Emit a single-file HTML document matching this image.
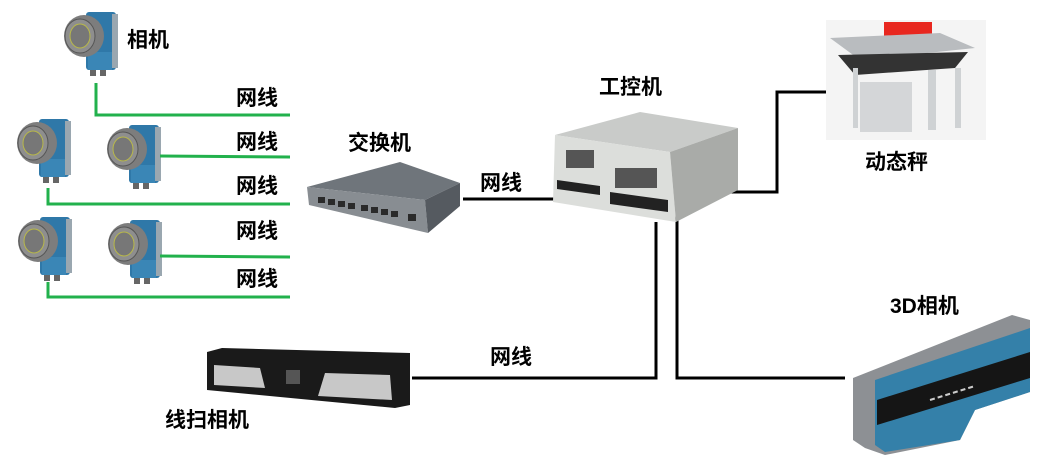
<!DOCTYPE html>
<html><head><meta charset="utf-8"><style>
html,body{margin:0;padding:0;background:#fff;}
body{width:1039px;height:461px;position:relative;overflow:hidden;font-family:"Liberation Sans","Noto Sans CJK SC",sans-serif;}
.t{position:absolute;font-weight:bold;font-size:21px;color:#000;white-space:nowrap;line-height:1;}
svg{position:absolute;left:0;top:0;}
</style></head><body>
<svg width="1039" height="461" viewBox="0 0 1039 461">
<defs>
<g id="cam">
  <rect x="24" y="4" width="30" height="58" rx="3" fill="#2f78a8"/>
  <rect x="50" y="6" width="6" height="54" fill="#9aa7b0"/>
  <rect x="26" y="44" width="24" height="18" fill="#3a86b6"/>
  <rect x="28" y="62" width="6" height="6" fill="#666"/>
  <rect x="38" y="62" width="6" height="6" fill="#666"/>
  <ellipse cx="22" cy="28" rx="20" ry="21" fill="#7d7d7d"/>
  <ellipse cx="18" cy="28" rx="15" ry="17" fill="#8e8e8e" stroke="#555"/>
  <ellipse cx="18" cy="28" rx="10" ry="12" fill="#777" stroke="#b8b84a" stroke-width="1"/>
</g>
</defs>
<use href="#cam" x="62" y="8"/>
<use href="#cam" x="15" y="115"/>
<use href="#cam" x="105" y="121"/>
<use href="#cam" x="16" y="213"/>
<use href="#cam" x="106" y="216"/>
<g stroke="#22b14c" stroke-width="3" fill="none">
  <polyline points="96,83 96,115 290,115"/>
  <line x1="160" y1="156" x2="290" y2="157"/>
  <polyline points="48,188 48,204 290,204"/>
  <line x1="160" y1="256" x2="290" y2="257"/>
  <polyline points="48,282 48,297 290,297"/>
</g>
<g stroke="#000" stroke-width="3" fill="none">
  <line x1="463" y1="199" x2="580" y2="199"/>
  <polyline points="708,192 777,192 777,92 826,92"/>
  <polyline points="412,378 656,378 656,222"/>
  <polyline points="677,215 677,378 845,378"/>
</g>
<!-- switch -->
<polygon points="307,187 400,162 460,183 425,200" fill="#6f757b"/>
<polygon points="307,187 425,200 428,233 309,205" fill="#888d92"/>
<polygon points="425,200 460,183 460,206 428,233" fill="#555a60"/>
<g fill="#2a2a2a">
<rect x="318" y="197" width="7" height="6"/><rect x="328" y="199" width="7" height="6"/><rect x="338" y="201" width="7" height="6"/><rect x="348" y="203" width="7" height="6"/>
<rect x="361" y="205" width="7" height="6"/><rect x="371" y="207" width="7" height="6"/><rect x="381" y="209" width="7" height="6"/><rect x="391" y="211" width="7" height="6"/><rect x="408" y="214" width="8" height="7"/>
</g>
<!-- PC -->
<polygon points="555,135 640,112 738,128 670,152" fill="#c9cbc9"/>
<polygon points="555,135 670,152 676,222 553,202" fill="#dcdedb"/>
<polygon points="670,152 738,128 738,190 676,222" fill="#a9aba8"/>
<g fill="#555"><rect x="566" y="150" width="28" height="18"/><rect x="615" y="168" width="42" height="20"/></g>
<polygon points="557,180 600,186 600,195 557,189" fill="#222"/>
<polygon points="610,192 668,200 668,212 610,204" fill="#222"/>
<!-- scale -->
<rect x="826" y="20" width="160" height="120" fill="#f4f4f4"/>
<rect x="884" y="22" width="48" height="17" fill="#e8271f"/>
<polygon points="830,38 940,33 975,48 860,60" fill="#b9bcbf"/>
<polygon points="838,55 968,52 955,68 855,75" fill="#333"/>
<rect x="860" y="82" width="52" height="50" fill="#d4d6d8"/>
<rect x="928" y="70" width="8" height="60" fill="#cfd2d4"/><rect x="955" y="68" width="6" height="60" fill="#cfd2d4"/>
<rect x="853" y="68" width="5" height="60" fill="#cfd2d4"/>
<!-- line scan -->
<polygon points="207,352 222,348 410,353 410,405 395,408 207,390" fill="#1a1a1a"/>
<polygon points="214,365 260,368 265,388 214,385" fill="#c8c8c8"/>
<polygon points="325,373 390,375 392,400 318,396" fill="#c8c8c8"/>
<rect x="286" y="370" width="14" height="14" fill="#555"/>
<!-- 3D camera -->
<polygon points="853,378 1012,315 1030,320 1030,392 975,410 960,440 885,455 865,448 853,440" fill="#8d9094"/>
<polygon points="875,380 1030,328 1030,392 975,410 960,440 885,452 875,445" fill="#3480a9"/>
<polygon points="877,400 1030,352 1030,378 877,425" fill="#151515"/>
<line x1="930" y1="400" x2="975" y2="386" stroke="#ccc" stroke-width="2" stroke-dasharray="5,3"/>
</svg>
<div class="t" style="left:127px;top:30px;">相机</div>
<div class="t" style="left:236px;top:88px;">网线</div>
<div class="t" style="left:236px;top:132px;">网线</div>
<div class="t" style="left:236px;top:176px;">网线</div>
<div class="t" style="left:236px;top:221px;">网线</div>
<div class="t" style="left:236px;top:269px;">网线</div>
<div class="t" style="left:348px;top:133px;">交换机</div>
<div class="t" style="left:480px;top:173px;">网线</div>
<div class="t" style="left:599px;top:77px;">工控机</div>
<div class="t" style="left:865px;top:152px;">动态秤</div>
<div class="t" style="left:490px;top:347px;">网线</div>
<div class="t" style="left:890px;top:296px;">3D相机</div>
<div class="t" style="left:165px;top:410px;">线扫相机</div>
</body></html>
